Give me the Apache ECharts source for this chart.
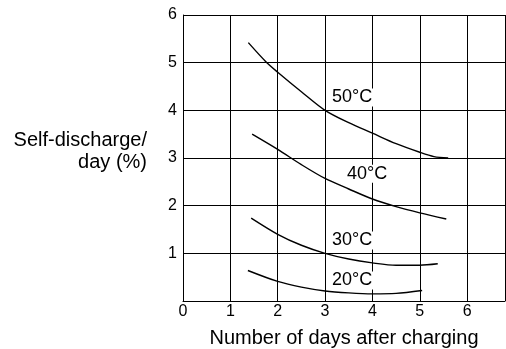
<!DOCTYPE html>
<html><head><meta charset="utf-8">
<script src="https://cdn.jsdelivr.net/npm/echarts@6/dist/echarts.min.js"></script>
<style>html,body{margin:0;padding:0;background:#fff}#c{width:506px;height:349px}</style>
</head><body><div id="c"></div>
<script>
var xTicks = [0,1,2,3,4,5,6];
var yTicks = [1,2,3,4,5,6];
var seriesNames = ['50°C','40°C','30°C','20°C'];
var days50 = [1.38, 1.75, 2.0, 2.5, 3.0, 3.5, 4.0, 4.5, 5.0, 5.3, 5.6];
var vals50 = [5.42, 5.02, 4.80, 4.39, 4.00, 3.74, 3.52, 3.30, 3.12, 3.03, 3.0];
var days40 = [1.46, 2.0, 2.5, 3.0, 3.5, 4.0, 4.5, 5.0, 5.56];
var vals40 = [3.50, 3.18, 2.86, 2.57, 2.35, 2.14, 1.98, 1.85, 1.72];
var days30 = [1.44, 2.0, 2.5, 3.0, 3.5, 4.0, 4.5, 5.0, 5.38];
var vals30 = [1.74, 1.40, 1.17, 1.00, 0.88, 0.80, 0.75, 0.75, 0.78];
var days20 = [1.37, 2.0, 2.5, 3.0, 3.5, 4.0, 4.5, 5.05];
var vals20 = [0.64, 0.41, 0.29, 0.21, 0.17, 0.15, 0.16, 0.22];
var labelX = [3.57, 3.89, 3.57, 3.57];
var labelY = [4.27, 2.67, 1.27, 0.43];

function pairs(xs, ys){ return xs.map(function(x,i){ return [x, ys[i]]; }); }
var curves = [pairs(days50, vals50), pairs(days40, vals40), pairs(days30, vals30), pairs(days20, vals20)];

var font = 'Liberation Sans, Arial, sans-serif';
var chart = echarts.init(document.getElementById('c'), null, {renderer:'canvas'});
var series = curves.map(function(d, i){
  return {type:'line', data:d, smooth:0.3, showSymbol:false, symbol:'none',
    lineStyle:{color:'#000', width:1.4}, silent:true, z:3};
});
series.push({type:'scatter', symbolSize:0, silent:true, z:4,
  itemStyle:{opacity:1},
  data: seriesNames.map(function(n,i){ return {name:n, value:[labelX[i], labelY[i]]}; }),
  label:{show:true, position:'inside', formatter:'{b}', color:'#000', opacity:1, fontSize:18, fontFamily:font,
    backgroundColor:'#fff', padding:[0,1]}
});
chart.setOption({
  animation:false,
  backgroundColor:'#fff',
  grid:{left:183, right:1, top:15, bottom:48, containLabel:false, outerBoundsMode:'none'},
  xAxis:{type:'value', min:0, max:6.8, interval:1,
    name:'Number of days after charging', nameLocation:'middle', nameGap:27,
    nameTextStyle:{color:'#000', fontSize:20, fontFamily:font},
    axisLine:{show:true, lineStyle:{color:'#000', width:1}},
    axisTick:{show:false},
    axisLabel:{color:'#000', fontSize:16, fontFamily:font, margin:3,
      formatter:function(v){ return xTicks.indexOf(v) >= 0 ? String(v) : ''; }},
    splitLine:{show:true, lineStyle:{color:'#000', width:1}}
  },
  yAxis:{type:'value', min:0, max:6, interval:1,
    name:'{a|Self-discharge/}\n{a|day (%)}\n{b|}', nameLocation:'middle', nameRotate:0, nameGap:36,
    nameTextStyle:{color:'#000', fontSize:20, fontFamily:font, align:'right', verticalAlign:'middle',
      rich:{a:{fontSize:20, fontFamily:font, color:'#000', lineHeight:22, align:'right'}, b:{fontSize:10, lineHeight:14}}},
    axisLine:{show:true, lineStyle:{color:'#000', width:1}},
    axisTick:{show:false},
    axisLabel:{color:'#000', fontSize:16, fontFamily:font, margin:6,
      formatter:function(v){ return yTicks.indexOf(v) >= 0 ? String(v) : ''; }},
    splitLine:{show:true, lineStyle:{color:'#000', width:1}}
  },
  series:series
});
</script></body></html>
